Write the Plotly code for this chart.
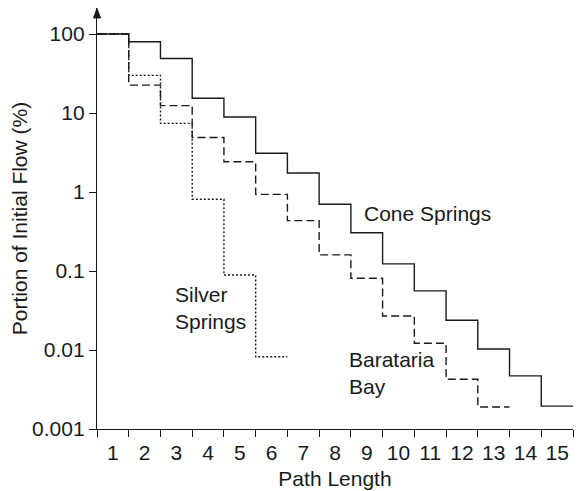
import plotly.graph_objects as go

path_length = list(range(1, 16))
cone_springs = [100, 80, 49, 15.4, 8.9, 3.1, 1.74, 0.70, 0.305, 0.123, 0.056, 0.0238, 0.0103, 0.0047, 0.00195]
barataria_bay = [100, 22.6, 12.4, 4.9, 2.42, 0.935, 0.434, 0.16, 0.081, 0.027, 0.0122, 0.00426, 0.0019]
silver_springs = [100, 30, 7.4, 0.81, 0.089, 0.0082]

y_tickvals = [100, 10, 1, 0.1, 0.01, 0.001]
y_ticktext = ["100", "10", "1", "0.1", "0.01", "0.001"]
x_ticktext = [str(v) for v in path_length]

FONT = "Liberation Sans, Arial, sans-serif"
INK = "#1a1a1a"
FS = 21

# page body has an 8px margin; figure sized so the plot lands where the reference has it
W, H = 578, 483
ML, MR, MT, MB = 89, 13, 0, 62
PW, PH = W - ML - MR, H - MT - MB
OX, OY = 8 + ML, 8 + MT  # plot-area origin on the page


def steps(values):
    xs = [k - 0.5 for k in range(1, len(values) + 1)] + [len(values) + 0.5]
    ys = list(values) + [values[-1]]
    return xs, ys


fig = go.Figure()
for vals, dash in [(cone_springs, "solid"), (barataria_bay, "8px,4px"), (silver_springs, "2px,2px")]:
    xs, ys = steps(vals)
    fig.add_trace(go.Scatter(x=xs, y=ys, mode="lines", line_shape="hv",
                             line=dict(color=INK, width=1.4, dash=dash),
                             showlegend=False, hoverinfo="skip", cliponaxis=False))

annots = [
    dict(x=(362 - OX) / PW, y=1 - (213 - OY) / PH, text="Cone Springs"),
    dict(x=(173 - OX) / PW, y=1 - (308 - OY) / PH, text="Silver<br>Springs"),
    dict(x=(347 - OX) / PW, y=1 - (373 - OY) / PH, text="Barataria<br>Bay"),
]
for a in annots:
    fig.add_annotation(xref="paper", yref="paper", showarrow=False, align="left",
                       xanchor="left", yanchor="middle",
                       font=dict(family=FONT, size=FS, color=INK), **a)

# arrow head at top of y axis
fig.add_shape(type="path", xref="paper", yref="paper",
              path=f"M {-3.5 / PW} {1 - 10 / PH} L 0 {1 - 0.5 / PH} L {3.5 / PW} {1 - 10 / PH} Z",
              fillcolor=INK, line=dict(color=INK, width=1))

fig.update_layout(
    width=W, height=H,
    margin=dict(l=ML, r=MR, t=MT, b=MB),
    paper_bgcolor="white", plot_bgcolor="white",
    font=dict(family=FONT, size=FS, color=INK),
    xaxis=dict(range=[0.5, 15.5], tickvals=path_length, ticktext=x_ticktext,
               ticks="outside", ticklen=5, tickcolor="rgba(0,0,0,0)",
               showgrid=False, zeroline=False, showline=True, automargin=False,
               linecolor=INK, linewidth=1.4, tickfont=dict(size=FS),
               minor=dict(tick0=0.5, dtick=1, ticks="outside", ticklen=7,
                          tickwidth=1.4, tickcolor=INK, showgrid=False),
               title=dict(text="Path Length", font=dict(size=FS), standoff=7)),
    yaxis=dict(type="log", range=[-3, 2.33], tickvals=y_tickvals, ticktext=y_ticktext,
               ticks="outside", ticklen=7, tickwidth=1.4, tickcolor=INK,
               showgrid=False, zeroline=False, showline=True, linecolor=INK,
               linewidth=1.4, tickfont=dict(size=FS), automargin=False,
               title=dict(text="Portion of Initial Flow (%)", font=dict(size=FS), standoff=10)),
)

fig.write_html("out.html")
